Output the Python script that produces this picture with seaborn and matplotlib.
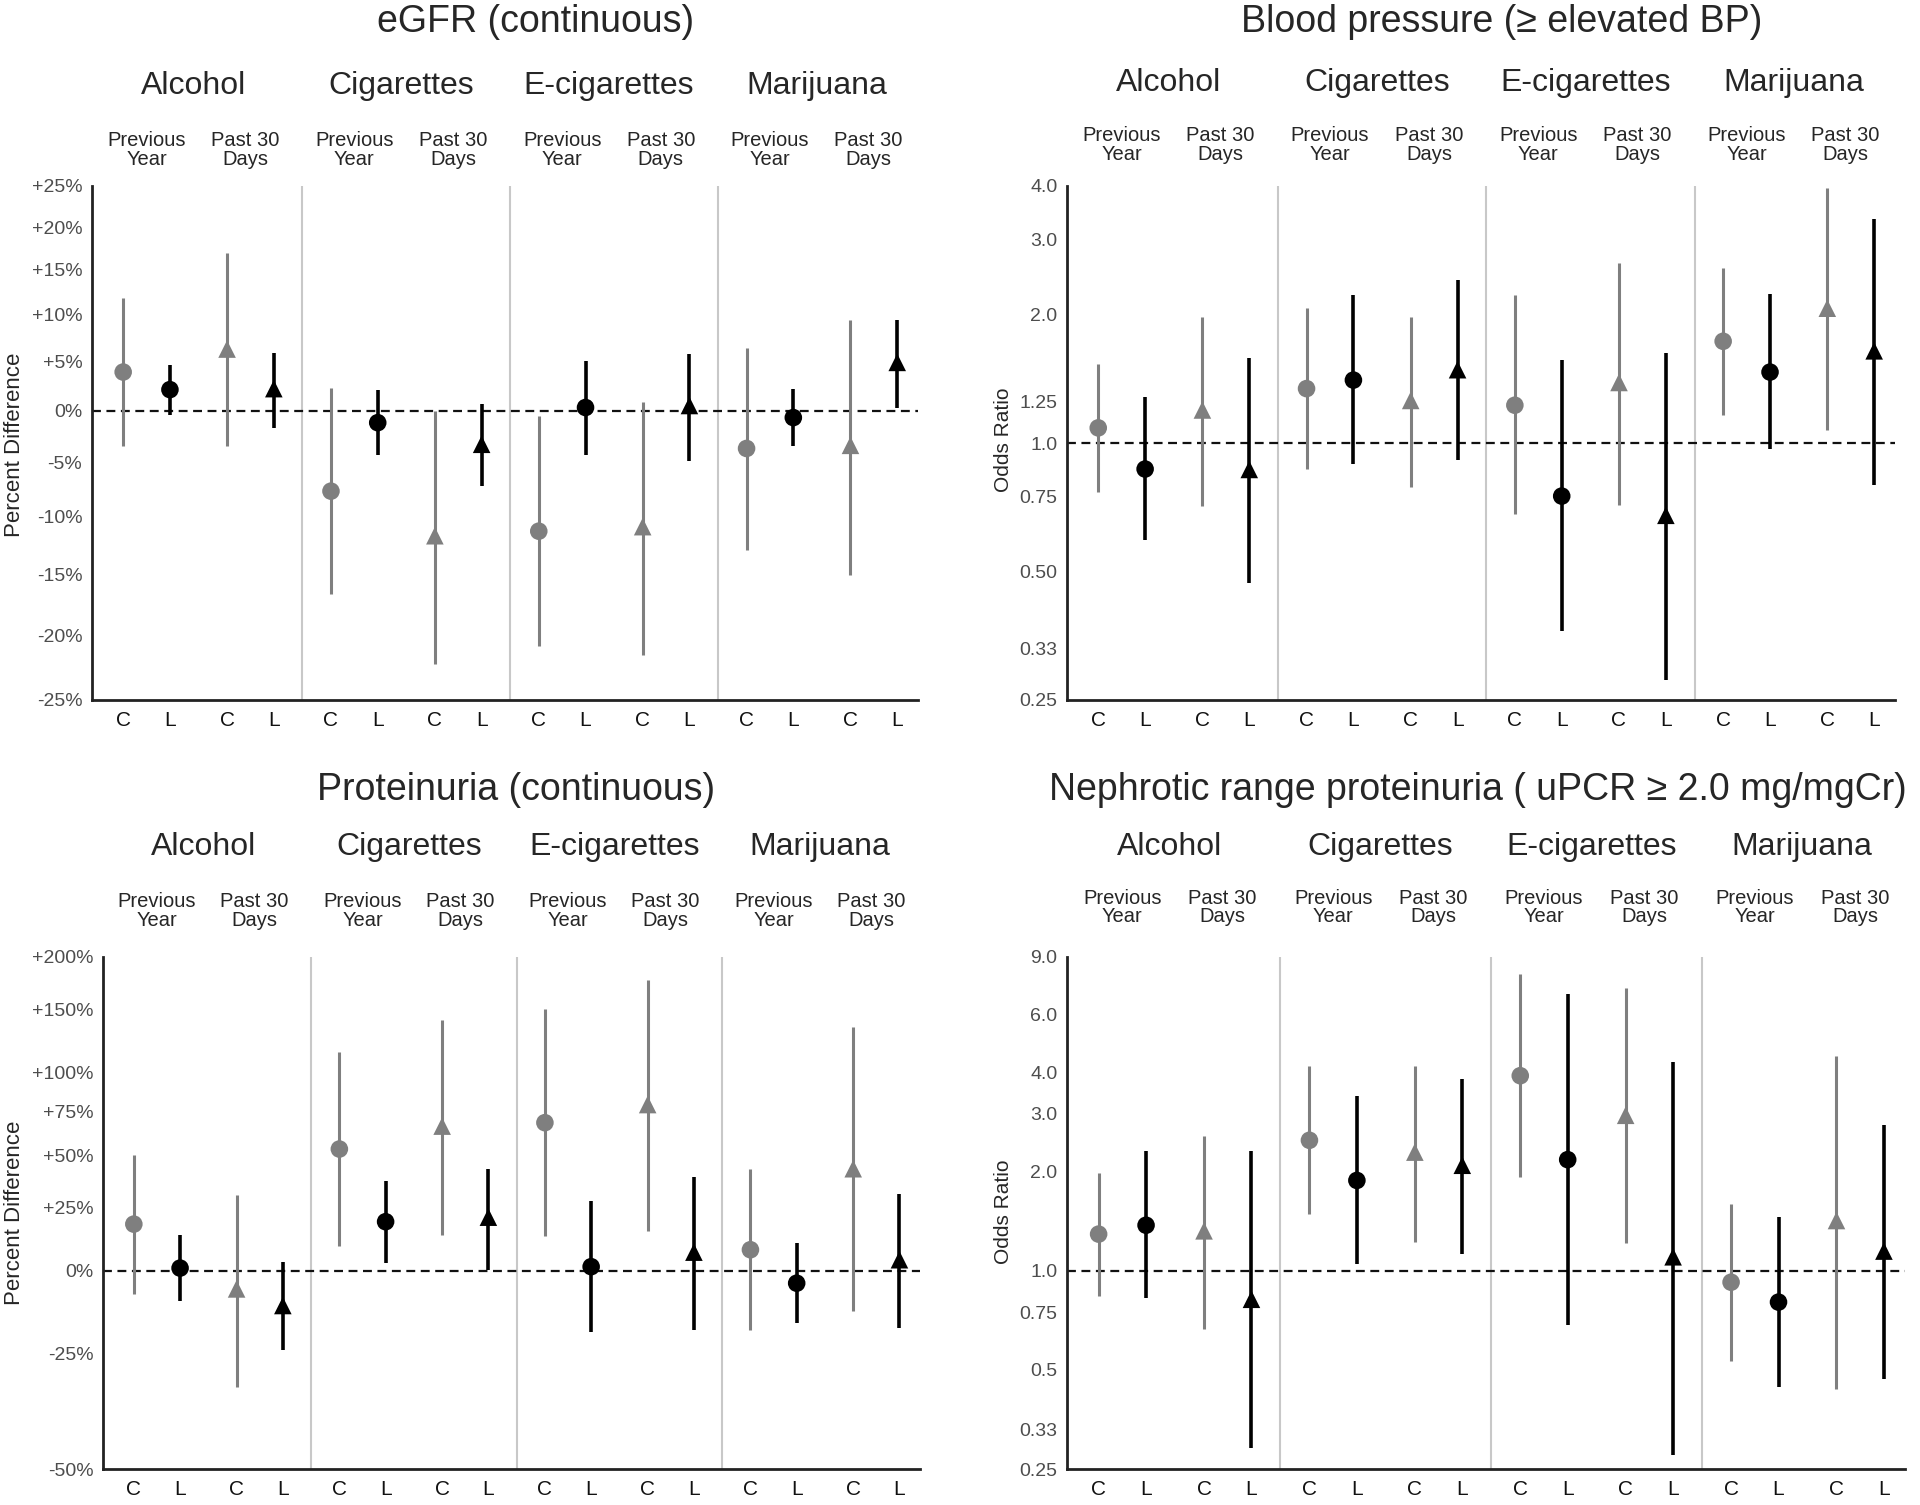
import matplotlib
matplotlib.use('Agg')
import matplotlib.pyplot as plt
import matplotlib.transforms as mtransforms
import seaborn as sns
import numpy as np
import pandas as pd

# order: substance x window (Previous Year, Past 30 Days) x design (C, L)
substances = ['Alcohol', 'Cigarettes', 'E-cigarettes', 'Marijuana']
windows = ['Previous Year', 'Past 30 Days']
designs = ['C', 'L']

# eGFR, percent difference
egfr_est = [3.9, 2.1, 6.3, 2.2, -7.7, -1.2, -11.7, -3.3, -11.3, 0.3, -10.9, 0.5, -3.7, -0.7, -3.4, 4.9]
egfr_lo = [-3.5, -0.4, -3.5, -1.7, -16.7, -4.3, -22.3, -7.2, -20.9, -4.3, -21.6, -4.9, -12.9, -3.5, -15.1, 0.3]
egfr_hi = [11.8, 4.6, 17.0, 5.9, 2.3, 2.1, -0.05, 0.7, -0.5, 5.0, 0.9, 5.8, 6.4, 2.2, 9.4, 9.4]

# blood pressure, odds ratio
bp_est = [1.085, 0.869, 1.195, 0.867, 1.341, 1.404, 1.258, 1.485, 1.226, 0.751, 1.386, 0.677, 1.731, 1.466, 2.069, 1.644]
bp_lo = [0.769, 0.593, 0.712, 0.471, 0.867, 0.892, 0.789, 0.912, 0.682, 0.363, 0.714, 0.279, 1.160, 0.967, 1.074, 0.799]
bp_hi = [1.535, 1.281, 1.971, 1.583, 2.074, 2.217, 1.971, 2.405, 2.217, 1.563, 2.636, 1.624, 2.570, 2.234, 3.966, 3.351]

# proteinuria, percent difference
prot_est = [17.8, 1.0, -6.1, -11.4, 53.2, 18.8, 66.0, 20.7, 68.0, 1.5, 79.0, 6.8, 7.7, -4.2, 43.0, 4.0]
prot_lo = [-7.6, -9.9, -33.3, -24.2, 9.3, 2.7, 13.4, 0.3, 13.0, -19.3, 14.9, -18.7, -18.7, -16.8, -13.0, -18.1]
prot_hi = [49.9, 13.4, 30.3, 3.0, 115.0, 36.9, 141.0, 43.0, 150.0, 27.9, 177.0, 38.9, 42.9, 10.2, 135.0, 31.0]

# nephrotic range proteinuria, odds ratio
neph_est = [1.294, 1.377, 1.324, 0.820, 2.495, 1.884, 2.297, 2.095, 3.921, 2.179, 2.972, 1.104, 0.924, 0.804, 1.423, 1.149]
neph_lo = [0.837, 0.826, 0.666, 0.289, 1.486, 1.051, 1.227, 1.122, 1.929, 0.684, 1.219, 0.276, 0.534, 0.444, 0.438, 0.468]
neph_hi = [1.980, 2.313, 2.579, 2.313, 4.188, 3.391, 4.188, 3.832, 7.97, 6.94, 7.22, 4.33, 1.598, 1.462, 4.489, 2.773]

pct_ticks_egfr = [-25, -20, -15, -10, -5, 0, 5, 10, 15, 20, 25]
pct_ticks_prot = [-50, -25, 0, 25, 50, 75, 100, 150, 200]
or_ticks_bp = [0.25, 0.33, 0.50, 0.75, 1.0, 1.25, 2.0, 3.0, 4.0]
or_labels_bp = ['0.25', '0.33', '0.50', '0.75', '1.0', '1.25', '2.0', '3.0', '4.0']
or_ticks_neph = [0.25, 0.33, 0.5, 0.75, 1.0, 2.0, 3.0, 4.0, 6.0, 9.0]
or_labels_neph = ['0.25', '0.33', '0.5', '0.75', '1.0', '2.0', '3.0', '4.0', '6.0', '9.0']

sns.set_theme(style='white')
plt.rcParams['font.family'] = ['Liberation Sans', 'DejaVu Sans']

GREY = '#7f7f7f'
offsets = [0.55, 1.45, 2.55, 3.45]


def make_df(est, lo, hi):
    rows = []
    i = 0
    for g, sub in enumerate(substances):
        for w in windows:
            for d in designs:
                rows.append({'x': g * 4 + offsets[i % 4], 'substance': sub, 'window': w,
                             'design': d, 'est': est[i], 'lo': lo[i], 'hi': hi[i]})
                i += 1
    return pd.DataFrame(rows)


def pct_label(p):
    if p > 0:
        return '+%d%%' % p
    return '%d%%' % p


def draw_panel(ax, df, title, ylabel, ylabel_size, ylabel_xy, ticks, labels, title_x, title_y, head_y, sub_y):
    ax.set_yscale('log')
    for g in range(1, 4):
        ax.axvline(g * 4, color='#c8c8c8', lw=1.5, zorder=1)
    ax.axhline(1.0, color='#111111', lw=1.6, ls=(0, (4, 2.5)), zorder=2)
    for d, col, lw in [('C', GREY, 2.2), ('L', 'black', 2.6)]:
        sub = df[df['design'] == d]
        ax.vlines(sub['x'], sub['lo'], sub['hi'], colors=col, lw=lw, zorder=3)
    sns.scatterplot(data=df, x='x', y='est', hue='design', style='window',
                    palette={'C': GREY, 'L': 'black'},
                    markers={'Previous Year': 'o', 'Past 30 Days': '^'},
                    s=160, linewidth=0, legend=False, zorder=4, ax=ax)
    ax.set_xlim(-0.05, 15.85)
    ax.set_ylim(ticks[0], ticks[-1])
    ax.set_yticks(ticks)
    ax.set_yticklabels(labels)
    ax.yaxis.set_minor_locator(matplotlib.ticker.NullLocator())
    ax.set_xticks(df['x'])
    ax.set_xticklabels(df['design'])
    ax.tick_params(axis='x', length=0, labelsize=15, colors='#111111', pad=8)
    ax.tick_params(axis='y', length=5, width=1.5, labelsize=14, labelcolor='#4d4d4d', color='#222222', pad=2)
    ax.set_xlabel('')
    ax.set_ylabel(ylabel, fontsize=ylabel_size)
    ax.yaxis.set_label_coords(*ylabel_xy)
    for side in ['top', 'right']:
        ax.spines[side].set_visible(False)
    for side in ['left', 'bottom']:
        ax.spines[side].set_color('#222222')
        ax.spines[side].set_linewidth(2)
    trans = mtransforms.blended_transform_factory(ax.transData, ax.transAxes)
    for g, sub in enumerate(substances):
        ax.text(g * 4 + 1.9, head_y, sub, transform=trans, ha='center', va='center', fontsize=23)
        for w, xo in zip(['Previous\nYear', 'Past 30\nDays'], [1.0, 2.9]):
            ax.text(g * 4 + xo, sub_y, w, transform=trans, ha='center', va='center',
                    fontsize=14.5, linespacing=0.95)
    ax.text(title_x, title_y, title, transform=ax.transAxes, ha='center', va='center', fontsize=27)


fig = plt.figure(figsize=(19.2, 15.05), dpi=100)
W, H = 1920, 1505


def add_axes(left, right, top, bottom):
    return fig.add_axes([left / W, 1 - bottom / H, (right - left) / W, (bottom - top) / H])


ax1 = add_axes(92, 918, 186, 700)
ax2 = add_axes(1067, 1895, 186, 700)
ax3 = add_axes(103, 920, 957, 1469)
ax4 = add_axes(1067, 1905, 957, 1469)

to_ratio = lambda v: [1 + p / 100.0 for p in v]

draw_panel(ax1, make_df(to_ratio(egfr_est), to_ratio(egfr_lo), to_ratio(egfr_hi)),
           'eGFR (continuous)', 'Percent Difference', 16, (-0.081, 0.496),
           to_ratio(pct_ticks_egfr), [pct_label(p) for p in pct_ticks_egfr],
           0.5375, 1.319, 1.195, 1.07)
draw_panel(ax2, make_df(bp_est, bp_lo, bp_hi),
           'Blood pressure (\u2265 elevated BP)', 'Odds Ratio', 15, (-0.065, 0.506),
           or_ticks_bp, or_labels_bp, 0.525, 1.319, 1.20, 1.08)
draw_panel(ax3, make_df(to_ratio(prot_est), to_ratio(prot_lo), to_ratio(prot_hi)),
           'Proteinuria (continuous)', 'Percent Difference', 16, (-0.095, 0.5),
           to_ratio(pct_ticks_prot), [pct_label(p) for p in pct_ticks_prot],
           0.505, 1.327, 1.215, 1.09)
draw_panel(ax4, make_df(neph_est, neph_lo, neph_hi),
           'Nephrotic range proteinuria ( uPCR \u2265 2.0 mg/mgCr)', 'Odds Ratio', 15, (-0.065, 0.502),
           or_ticks_neph, or_labels_neph, 0.49, 1.327, 1.215, 1.096)

fig.savefig('out.png', dpi=100, facecolor='white')
